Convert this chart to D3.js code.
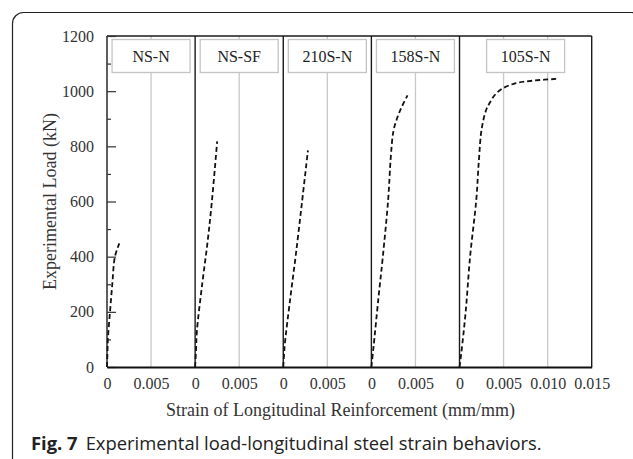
<!DOCTYPE html>
<html>
<head>
<meta charset="utf-8">
<script src="https://cdn.jsdelivr.net/npm/d3@7"></script>
<style>
  body { margin: 0; background: #fff; }
  svg { display: block; }
</style>
</head>
<body>
<div id="chart"></div>
<script>
// panels (specimens) and the strain span each one takes on the shared x axis
const panels = ["NS-N", "NS-SF", "210S-N", "158S-N", "105S-N"]
const panelSpan = [0.01, 0.01, 0.01, 0.01, 0.015]

// strain (mm/mm) vs load (kN)
const strainNSN = [0, 0.00005, 0.0001, 0.00034, 0.0006, 0.0009, 0.0014]
const loadNSN = [0, 50, 100, 200, 300, 400, 448]

const strainNSSF = [0, 0.0001, 0.0002, 0.0008, 0.0014, 0.0019, 0.0025]
const loadNSSF = [0, 60, 130, 300, 450, 600, 818]

const strain210 = [0, 0.0001, 0.0002, 0.0008, 0.0014, 0.0021, 0.0028]
const load210 = [0, 50, 90, 250, 400, 590, 785]

const strain158 = [0, 0.0002, 0.0003, 0.0008, 0.0013, 0.0019, 0.0022, 0.0025, 0.0029, 0.0034, 0.0041]
const load158 = [0, 60, 90, 250, 400, 605, 760, 855, 900, 940, 985]

const strain105 = [0, 0.0002, 0.0007, 0.0012, 0.0019, 0.0022, 0.0025, 0.003, 0.0034, 0.004, 0.0049, 0.0064, 0.0083, 0.0113]
const load105 = [0, 50, 200, 400, 605, 750, 860, 930, 956, 986, 1010, 1029, 1038, 1045]

const series = [
  [strainNSN, loadNSN],
  [strainNSSF, loadNSSF],
  [strain210, load210],
  [strain158, load158],
  [strain105, load105]
]

const xTickLabels = ["0", "0.005", "0", "0.005", "0", "0.005", "0", "0.005", "0", "0.005", "0.010", "0.015"]
const yTicks = [0, 200, 400, 600, 800, 1000, 1200]
const yMinor = [100, 300, 500, 700, 900, 1100]

const W = 633, H = 459
const plot = {left: 107, right: 591.7, top: 36, bottom: 367}

const offsets = [0].concat(Array.from(d3.cumsum(panelSpan))).slice(0, panels.length)
const total = d3.sum(panelSpan)

const x = d3.scaleLinear().domain([0, total]).range([plot.left, plot.right])
const y = d3.scaleLinear().domain([0, 1200]).range([plot.bottom, plot.top])

const svg = d3.select('#chart').append('svg')
  .attr('width', W).attr('height', H)

// outer rounded frame (only top/left visible in the crop)
svg.append('rect')
  .attr('x', 12.5).attr('y', 12.5)
  .attr('width', 630).attr('height', 470)
  .attr('rx', 11).attr('ry', 11)
  .attr('fill', 'none').attr('stroke', '#222').attr('stroke-width', 1.2)

const serif = "'Liberation Serif', 'Times New Roman', serif"

// grid lines at each 0.005 inside a panel (not on panel edges)
const xTickVals = d3.range(0, xTickLabels.length).map(i => i * 0.005)
const gridVals = xTickVals.filter(v => !offsets.some(o => Math.abs(o - v) < 1e-9) && Math.abs(v - total) > 1e-9)

svg.append('g').selectAll('line')
  .data(gridVals).enter().append('line')
  .attr('x1', d => x(d)).attr('x2', d => x(d))
  .attr('y1', plot.top).attr('y2', plot.bottom)
  .attr('stroke', '#c8c8c8').attr('stroke-width', 1.3)

// panel label boxes
const boxW = 78, boxH = 33
panels.forEach((p, i) => {
  const cx = (x(offsets[i]) + x(offsets[i] + panelSpan[i])) / 2
  svg.append('rect')
    .attr('x', cx - boxW / 2).attr('y', plot.top + 3.5)
    .attr('width', boxW).attr('height', boxH)
    .attr('fill', '#fff').attr('stroke', '#c4c4c4').attr('stroke-width', 1.3)
  svg.append('text')
    .attr('x', cx).attr('y', plot.top + 3.5 + boxH / 2)
    .attr('dy', '0.35em')
    .attr('text-anchor', 'middle')
    .attr('font-family', serif).attr('font-size', 16)
    .attr('fill', '#222')
    .text(p)
})

// panel borders
const borders = offsets.concat([total])
svg.append('g').selectAll('line')
  .data(borders).enter().append('line')
  .attr('x1', d => x(d)).attr('x2', d => x(d))
  .attr('y1', plot.top).attr('y2', plot.bottom)
  .attr('stroke', '#1a1a1a').attr('stroke-width', 1.4)

svg.append('line')
  .attr('x1', plot.left).attr('x2', plot.right)
  .attr('y1', plot.top).attr('y2', plot.top)
  .attr('stroke', '#1a1a1a').attr('stroke-width', 1.4)

// y axis: ticks point inward
const yAxis = d3.axisRight(y).tickValues(yTicks).tickSize(9).tickFormat('')
svg.append('g').attr('transform', 'translate(' + plot.left + ',0)').call(yAxis)
  .call(g => g.select('.domain').remove())
  .call(g => g.selectAll('line').attr('stroke', '#333').attr('stroke-width', 1.2))
const yAxisMinor = d3.axisRight(y).tickValues(yMinor).tickSize(4).tickFormat('')
svg.append('g').attr('transform', 'translate(' + plot.left + ',0)').call(yAxisMinor)
  .call(g => g.select('.domain').remove())
  .call(g => g.selectAll('line').attr('stroke', '#333').attr('stroke-width', 1.2))

svg.append('g').selectAll('text')
  .data(yTicks).enter().append('text')
  .attr('x', 94).attr('y', d => y(d)).attr('dy', '0.35em')
  .attr('text-anchor', 'end')
  .attr('font-family', serif).attr('font-size', 16).attr('fill', '#333')
  .text(d => d)

// x axis
const xAxis = d3.axisBottom(x).tickValues(xTickVals).tickSize(0)
  .tickFormat((d, i) => xTickLabels[i])
svg.append('g').attr('transform', 'translate(0,' + plot.bottom + ')').call(xAxis)
  .call(g => g.select('.domain').attr('stroke', '#111').attr('stroke-width', 2))
  .call(g => g.selectAll('text')
    .attr('font-family', serif).attr('font-size', 16).attr('fill', '#333')
    .attr('dy', '0').attr('y', 22))

// curves
const line = d3.line()
  .x(d => x(d[0]))
  .y(d => y(d[1]))
  .curve(d3.curveCatmullRom.alpha(0.5))

series.forEach((s, i) => {
  const pts = s[0].map((v, j) => [offsets[i] + v, s[1][j]])
  svg.append('path')
    .datum(pts)
    .attr('d', line)
    .attr('fill', 'none')
    .attr('stroke', '#111')
    .attr('stroke-width', 1.8)
    .attr('stroke-dasharray', '5,3')
})

// axis titles
svg.append('text')
  .attr('transform', 'translate(50,' + ((plot.top + plot.bottom) / 2) + ') rotate(-90)')
  .attr('text-anchor', 'middle').attr('dy', '0.35em')
  .attr('font-family', serif).attr('font-size', 18).attr('fill', '#333')
  .text('Experimental Load (kN)')

svg.append('text')
  .attr('x', 340.5).attr('y', 416)
  .attr('text-anchor', 'middle')
  .attr('font-family', serif).attr('font-size', 18).attr('fill', '#333')
  .text('Strain of Longitudinal Reinforcement (mm/mm)')

// caption
const cap = svg.append('text')
  .attr('x', 31).attr('y', 450)
  .attr('font-family', "'Open Sans', 'Noto Sans', sans-serif").attr('font-size', 18.4).attr('fill', '#222')
cap.append('tspan').attr('font-weight', 'bold').text('Fig. 7')
cap.append('tspan').attr('dx', 8).text('Experimental load-longitudinal steel strain behaviors.')
</script>
</body>
</html>
